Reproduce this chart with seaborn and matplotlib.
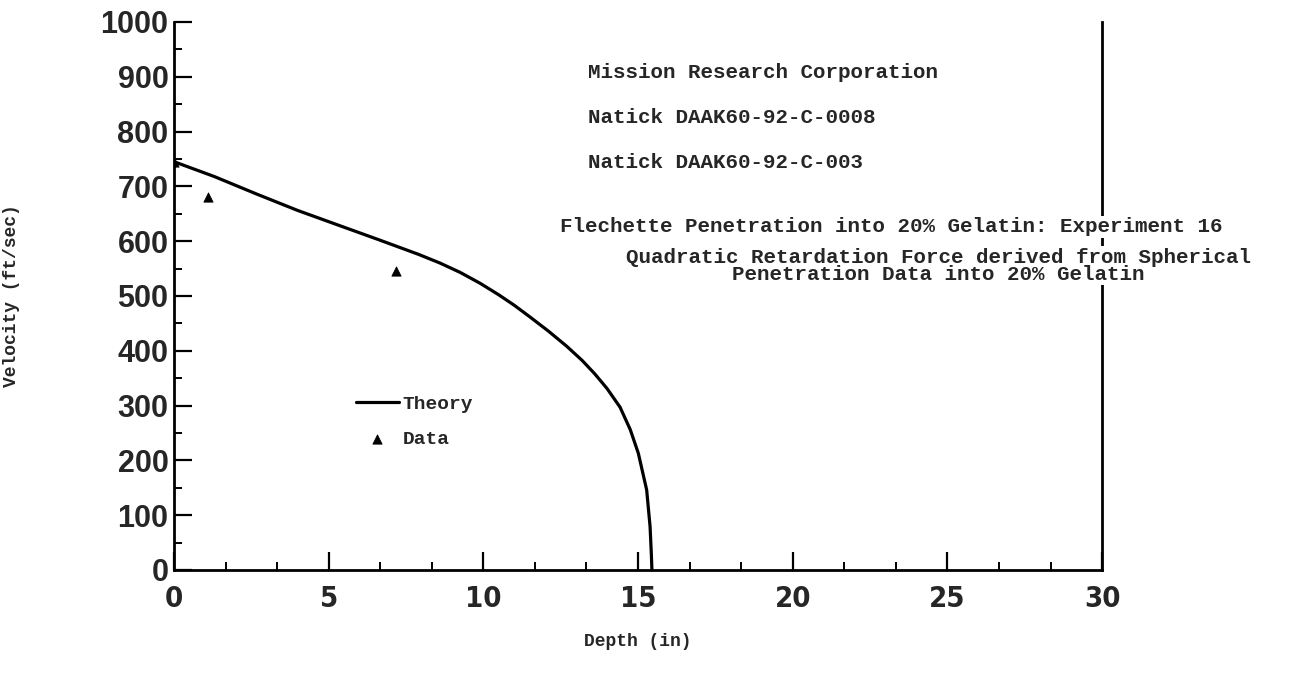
import numpy as np
import pandas as pd
import matplotlib
matplotlib.use("Agg")
import matplotlib.pyplot as plt
import seaborn as sns
from matplotlib.ticker import MultipleLocator

# theory curve (depth in, velocity ft/sec)
theory_depth = [0.0, 1.3, 2.67, 4.0, 5.47, 6.6, 7.9, 8.6, 9.25, 9.9, 10.5,
                11.0, 11.5, 12.1, 12.7, 13.2, 13.6, 14.0, 14.42, 14.75,
                15.01, 15.28, 15.39, 15.43, 15.45]
theory_vel = [745, 718, 686, 656, 626, 603, 576, 560, 543, 523, 502,
              483, 462, 436, 408, 382, 358, 331, 297, 256,
              213, 146, 79, 30, 0]

# measured points
data_depth = [0.0, 1.09, 7.17]
data_vel = [745, 680, 545]

notes = ["Mission Research Corporation",
         "Natick DAAK60-92-C-0008",
         "Natick DAAK60-92-C-003"]
title1 = "Flechette Penetration into 20% Gelatin: Experiment 16"
title2 = "Quadratic Retardation Force derived from Spherical\nPenetration Data into 20% Gelatin"

df_theory = pd.DataFrame({"Depth": theory_depth, "Velocity": theory_vel})
df_data = pd.DataFrame({"Depth": data_depth, "Velocity": data_vel})

sns.set_style("ticks")
mono = ["Liberation Mono", "DejaVu Sans Mono"]

fig = plt.figure(figsize=(13.07, 6.75), dpi=100)
ax = fig.add_axes([0.1331, 0.1556, 0.7101, 0.8119])

sns.lineplot(data=df_theory, x="Depth", y="Velocity", ax=ax, color="black",
             linewidth=2.3, label="Theory", sort=False)
sns.scatterplot(data=df_data, x="Depth", y="Velocity", ax=ax, color="black",
                marker="^", s=45, label="Data", edgecolor="black")

ax.set_xlim(0, 30)
ax.set_ylim(0, 1000)
ax.xaxis.set_major_locator(MultipleLocator(5))
ax.xaxis.set_minor_locator(MultipleLocator(5 / 3))
ax.yaxis.set_major_locator(MultipleLocator(100))
ax.yaxis.set_minor_locator(MultipleLocator(50))
ax.tick_params(which="major", direction="in", length=13, width=1.6, color="black")
ax.tick_params(which="minor", direction="in", length=6, width=1.4, color="black")
ax.tick_params(axis="x", which="major", pad=11)
ax.tick_params(axis="y", which="major", pad=4)

for lab in ax.get_yticklabels():
    lab.set_fontfamily(["Liberation Sans", "DejaVu Sans"])
    lab.set_fontweight("bold")
    lab.set_fontsize(22)
for lab in ax.get_xticklabels():
    lab.set_fontfamily(["DejaVu Sans"])
    lab.set_fontstretch("condensed")
    lab.set_fontweight("bold")
    lab.set_fontsize(21)

ax.spines["top"].set_visible(False)
for s in ["left", "bottom", "right"]:
    ax.spines[s].set_linewidth(2)
    ax.spines[s].set_color("black")

ax.set_xlabel("Depth (in)", fontfamily=mono, fontweight="bold", fontsize=13)
ax.set_ylabel("Velocity (ft/sec)", fontfamily=mono, fontweight="bold", fontsize=13)
ax.xaxis.set_label_coords(0.5, -0.115)
ax.yaxis.set_label_coords(-0.166, 0.5)

# annotation block
for txt, v in zip(notes, [907, 825, 743]):
    ax.text(13.38, v, txt, fontfamily=mono, fontweight="bold", fontsize=15,
            va="center", ha="left")
ax.text(12.48, 626, title1, fontfamily=mono, fontweight="bold", fontsize=15,
        va="center", ha="left", clip_on=False,
        bbox=dict(facecolor="white", edgecolor="none", pad=1))
ax.text(24.7, 555, title2, fontfamily=mono, fontweight="bold", fontsize=15,
        va="center", ha="center", linespacing=0.85, clip_on=False,
        bbox=dict(facecolor="white", edgecolor="none", pad=1))

leg = ax.legend(loc="upper left", bbox_to_anchor=(0.177, 0.35), frameon=False,
                prop={"family": mono, "weight": "bold", "size": 14},
                handlelength=2.2, handletextpad=0.2, labelspacing=0.9)

fig.savefig("out.png", dpi=100)
